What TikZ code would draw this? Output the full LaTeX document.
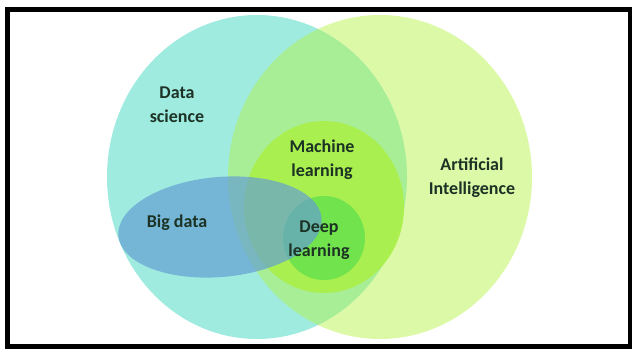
\documentclass[tikz,border=0pt]{standalone}
\usepackage{fontspec}
\setmainfont{Carlito}
\usepackage{tikz}
\usetikzlibrary{positioning}

\definecolor{dscolor}{RGB}{160,235,224}
\definecolor{aicolor}{RGB}{178,242,63}
\definecolor{mlcolor}{RGB}{170,240,76}
\definecolor{dlcolor}{RGB}{108,226,76}
\definecolor{bdcolor}{RGB}{100,160,210}
\definecolor{ink}{RGB}{28,50,36}

\begin{document}
\begin{tikzpicture}[x=1pt, y=1pt]
    % Styles
    \tikzstyle{venntext} = [text=ink, font=\fontsize{18}{24}\selectfont\bfseries, align=center, inner sep=0pt]
    \tikzstyle{frame} = [draw=black, line width=5pt]

    \useasboundingbox (0,0) rectangle (632,351);

    % --- SETS ---
    \fill[dscolor] (257,174) ellipse [x radius=150, y radius=162];
    \fill[aicolor, fill opacity=0.45] (380,174) ellipse [x radius=152, y radius=162];
    \fill[mlcolor, fill opacity=0.95] (324,144) ellipse [x radius=80, y radius=86];
    \fill[dlcolor, fill opacity=0.9] (324,113) ellipse [x radius=41, y radius=42];
    \fill[bdcolor, fill opacity=0.7, rotate around={5:(220,124)}] (220,124) ellipse [x radius=102, y radius=50];

    % --- LABELS ---
    \node[venntext] (ds) at (177,246) {Data\\science};
    \node[venntext] (bd) at (177,128) {Big data};
    \node[venntext] (ml) at (322,191) {Machine\\learning};
    \node[venntext] (dl) at (319,111) {Deep\\learning};
    \node[venntext] (ai) at (472,173) {Artificial\\Intelligence};

    % --- FRAME ---
    \draw[frame] (7,5) rectangle (630,341);

\end{tikzpicture}
\end{document}
